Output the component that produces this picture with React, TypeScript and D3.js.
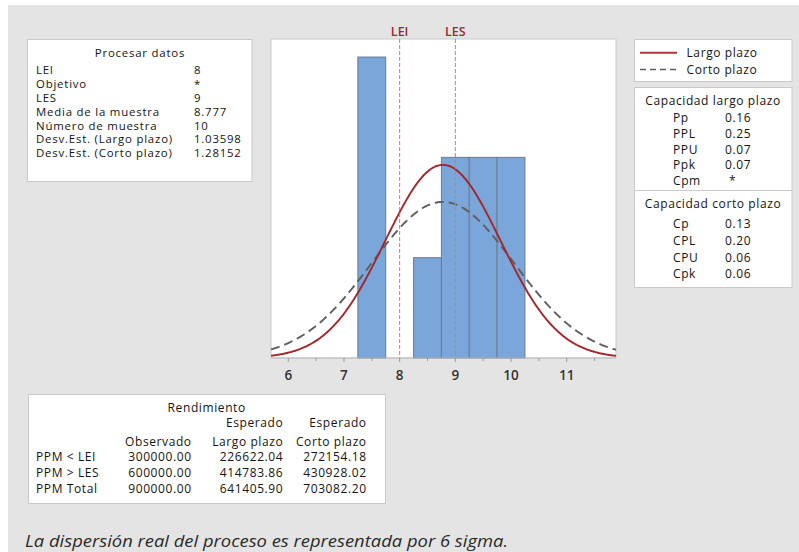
import React from "react";
import * as d3 from "d3";

// ---- data ----
const binLower = [7.25, 8.25, 8.75, 9.25, 9.75];
const binCounts = [3, 1, 2, 2, 2];
const binWidth = 0.5;
const LEI = 8;
const LES = 9;
const sampleMean = 8.777;
const sampleN = 10;
const sdLong = 1.03598;
const sdShort = 1.28152;
const xTicks = [6, 7, 8, 9, 10, 11];
const xMinorTicks = [6.5, 7.5, 8.5, 9.5, 10.5, 11.5];

const procLabels = ["LEI", "Objetivo", "LES", "Media de la muestra", "Número de muestra", "Desv.Est. (Largo plazo)", "Desv.Est. (Corto plazo)"];
const procValues = ["8", "*", "9", "8.777", "10", "1.03598", "1.28152"];

const longLabels = ["Pp", "PPL", "PPU", "Ppk", "Cpm"];
const longValues = ["0.16", "0.25", "0.07", "0.07", "*"];
const shortLabels = ["Cp", "CPL", "CPU", "Cpk"];
const shortValues = ["0.13", "0.20", "0.06", "0.06"];

const yieldRows = ["PPM < LEI", "PPM > LES", "PPM Total"];
const yieldObserved = ["300000.00", "600000.00", "900000.00"];
const yieldLong = ["226622.04", "414783.86", "641405.90"];
const yieldShort = ["272154.18", "430928.02", "703082.20"];

const FONT = "'Open Sans', 'Noto Sans', sans-serif";
const TXT = "#141414";
const BORDER = "#c9c9c9";

export default function App() {
  const left = 271, right = 616, top = 39, bottom = 358;
  const x = d3.scaleLinear().domain([5.69, 11.885]).range([left, right]);
  const y = d3.scaleLinear().domain([0, 3.18]).range([bottom, top]);

  const pts = d3.range(0, 301).map((i) => 5.69 + (i / 300) * (11.885 - 5.69));
  const pdf = (v: number, s: number) => Math.exp(-0.5 * ((v - sampleMean) / s) ** 2) / (s * Math.sqrt(2 * Math.PI));
  const scaleF = sampleN * binWidth;
  const line = d3.line<number[]>().x((d) => x(d[0])).y((d) => y(d[1])).curve(d3.curveMonotoneX);
  const longPath = line(pts.map((v) => [v, pdf(v, sdLong) * scaleF])) || "";
  const shortPath = line(pts.map((v) => [v, pdf(v, sdShort) * scaleF])) || "";

  const fsL = 11.4;
  const lsL = 0.8;
  const fs = 12;
  const ls = 0.6;

  return (
    <svg width={799} height={552} style={{ position: "absolute", left: 0, top: 0 }} fontFamily={FONT}>
      <rect x={0} y={0} width={799} height={552} fill="#ffffff" />
      <rect x={8} y={5} width={791} height={547} fill="#e4e4e4" />

      {/* Procesar datos */}
      <rect x={27.5} y={39.5} width={224.5} height={142} fill="#fff" stroke={BORDER} />
      <text x={140} y={56.7} textAnchor="middle" fontSize={fsL} letterSpacing={lsL} fill={TXT}>Procesar datos</text>
      {procLabels.map((l, i) => (
        <g key={l}>
          <text x={36} y={74 + i * 13.88} fontSize={fsL} letterSpacing={lsL} fill={TXT}>{l}</text>
          <text x={194} y={74 + i * 13.88} fontSize={fsL} letterSpacing={lsL} fill={TXT}>{procValues[i]}</text>
        </g>
      ))}

      {/* plot */}
      <rect x={left} y={top} width={right - left} height={bottom - top} fill="#fff" stroke={BORDER} />
      {binLower.map((b, i) => (
        <rect key={b} x={x(b)} y={y(binCounts[i])} width={x(b + binWidth) - x(b)} height={y(0) - y(binCounts[i])}
          fill="#7aa6da" stroke="#6c7c90" strokeWidth={1} />
      ))}
      <path d={shortPath} fill="none" stroke="#5f5f5f" strokeWidth={1.9} strokeDasharray="9,5" />
      <path d={longPath} fill="none" stroke="#a3262c" strokeWidth={1.9} />
      {[LEI, LES].map((v, i) => (
        <g key={v}>
          <line x1={x(v)} x2={x(v)} y1={top} y2={bottom} stroke="#f06a70" strokeWidth={1} strokeDasharray="4,2" />
          <text x={x(v)} y={36} textAnchor="middle" fontSize={12.5} fontWeight={600} fill="#9b2a2e">{i === 0 ? "LEI" : "LES"}</text>
        </g>
      ))}
      <line x1={left} x2={right} y1={bottom} y2={bottom} stroke="#bdbdbd" />
      {xTicks.map((t) => (
        <g key={t}>
          <line x1={x(t)} x2={x(t)} y1={bottom} y2={bottom + 4} stroke="#9a9a9a" />
          <text x={x(t)} y={379.5} textAnchor="middle" fontSize={13.5} fontWeight={600} fill="#333">{t}</text>
        </g>
      ))}
      {xMinorTicks.map((t) => (
        <line key={t} x1={x(t)} x2={x(t)} y1={bottom} y2={bottom + 3} stroke="#9a9a9a" />
      ))}

      {/* legend */}
      <rect x={634.5} y={39.5} width={157.5} height={42} fill="#fff" stroke={BORDER} />
      <line x1={640} x2={677} y1={52.7} y2={52.7} stroke="#b23a3e" strokeWidth={2} />
      <text x={686.5} y={57.3} fontSize={fs} letterSpacing={ls} fill={TXT}>Largo plazo</text>
      <line x1={640} x2={677} y1={69.5} y2={69.5} stroke="#5f5f5f" strokeWidth={1.5} strokeDasharray="6,4" />
      <text x={686.5} y={74.3} fontSize={fs} letterSpacing={ls} fill={TXT}>Corto plazo</text>

      {/* capability */}
      <rect x={634.5} y={87.5} width={157.5} height={200} fill="#fff" stroke={BORDER} />
      <line x1={634.5} x2={792} y1={190.5} y2={190.5} stroke={BORDER} />
      <text x={713} y={105} textAnchor="middle" fontSize={fs} letterSpacing={ls} fill={TXT}>Capacidad largo plazo</text>
      {longLabels.map((l, i) => (
        <g key={l}>
          <text x={673} y={122.3 + i * 15.7} fontSize={fs} letterSpacing={ls} fill={TXT}>{l}</text>
          <text x={longValues[i] === "*" ? 729 : 725} y={122.3 + i * 15.7} fontSize={fs} letterSpacing={ls} fill={TXT}>{longValues[i]}</text>
        </g>
      ))}
      <text x={713} y={207.7} textAnchor="middle" fontSize={fs} letterSpacing={ls} fill={TXT}>Capacidad corto plazo</text>
      {shortLabels.map((l, i) => (
        <g key={l}>
          <text x={673} y={228.3 + i * 16.7} fontSize={fs} letterSpacing={ls} fill={TXT}>{l}</text>
          <text x={725} y={228.3 + i * 16.7} fontSize={fs} letterSpacing={ls} fill={TXT}>{shortValues[i]}</text>
        </g>
      ))}

      {/* Rendimiento */}
      <rect x={28.5} y={394.5} width={357} height={109} fill="#fff" stroke={BORDER} />
      <text x={206.7} y={412.3} textAnchor="middle" fontSize={fs} letterSpacing={ls} fill={TXT}>Rendimiento</text>
      <text x={283.3} y={427.3} textAnchor="end" fontSize={fs} letterSpacing={ls} fill={TXT}>Esperado</text>
      <text x={366.7} y={427.3} textAnchor="end" fontSize={fs} letterSpacing={ls} fill={TXT}>Esperado</text>
      <text x={191.7} y={445.7} textAnchor="end" fontSize={fs} letterSpacing={ls} fill={TXT}>Observado</text>
      <text x={283.3} y={445.7} textAnchor="end" fontSize={fs} letterSpacing={ls} fill={TXT}>Largo plazo</text>
      <text x={366.7} y={445.7} textAnchor="end" fontSize={fs} letterSpacing={ls} fill={TXT}>Corto plazo</text>
      {yieldRows.map((r, i) => (
        <g key={r}>
          <text x={36} y={461 + i * 16.15} fontSize={fs} letterSpacing={ls} fill={TXT}>{r}</text>
          <text x={191.7} y={461 + i * 16.15} textAnchor="end" fontSize={fs} letterSpacing={ls} fill={TXT}>{yieldObserved[i]}</text>
          <text x={283.3} y={461 + i * 16.15} textAnchor="end" fontSize={fs} letterSpacing={ls} fill={TXT}>{yieldLong[i]}</text>
          <text x={366.7} y={461 + i * 16.15} textAnchor="end" fontSize={fs} letterSpacing={ls} fill={TXT}>{yieldShort[i]}</text>
        </g>
      ))}

      <text x={25} y={547} fontSize={17} fontStyle="italic" fill="#2a2a2a" fontFamily="'Open Sans', sans-serif"
        textLength={483} lengthAdjust="spacingAndGlyphs">
        La dispersión real del proceso es representada por 6 sigma.
      </text>
    </svg>
  );
}
